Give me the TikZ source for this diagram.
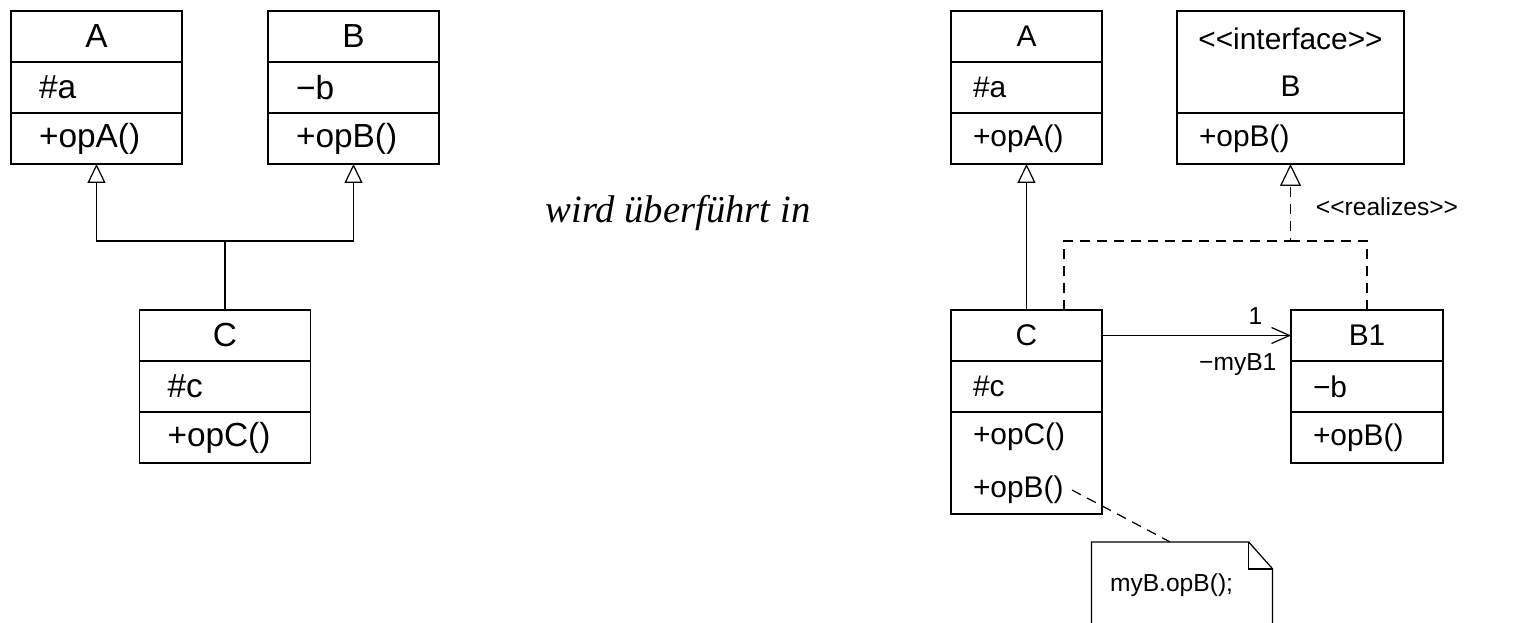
\documentclass[tikz,border=0pt]{standalone}
\usepackage{fontspec}
\newfontfamily\umlfont{Liberation Sans}
\newfontfamily\serifont{Liberation Serif}
\usetikzlibrary{positioning,calc,arrows.meta}

\tikzset{
  cname/.style={draw, minimum width=#1, minimum height=1.02cm, inner sep=0pt, outer sep=0pt, align=center},
  cpart/.style={draw, text width=#1, align=left, inner xsep=0.46cm, inner ysep=0pt, outer sep=0pt, minimum height=1.02cm},
  lbl/.style={font=\umlfont\fontsize{14}{17}\selectfont, inner sep=0pt},
  dashline/.style={dash pattern=on 0.2cm off 0.14cm},
  gen/.style={-{Triangle[open,length=0.38cm,width=0.36cm]}},
  real/.style={dashline, -{Triangle[open,length=0.44cm,width=0.42cm]}},
  assoc/.style={-{Straight Barb[length=0.36cm,width=0.32cm]}}
}

\begin{document}
\begin{tikzpicture}[x=0.02cm, y=-0.02cm, line width=0.7pt,
  font=\umlfont\fontsize{19}{30}\selectfont]

\useasboundingbox (0,0) rectangle (1531,622);

% Left: class C with two superclasses
\node[cname=3.42cm] (A) at (96.5,36.5) {A};
\node[cpart=2.3cm, inner xsep=0.56cm, below=0pt of A] (A-a) {\#a};
\node[cpart=2.3cm, inner xsep=0.56cm, below=0pt of A-a] (A-o) {+opA()};

\node[cname=3.42cm] (B) at (353.5,36.5) {B};
\node[cpart=2.3cm, inner xsep=0.56cm, below=0pt of B] (B-a) {−b};
\node[cpart=2.3cm, inner xsep=0.56cm, below=0pt of B-a] (B-o) {+opB()};

\node[cname=3.42cm] (C) at (225,335.5) {C};
\node[cpart=2.3cm, inner xsep=0.56cm, below=0pt of C] (C-a) {\#c};
\node[cpart=2.3cm, inner xsep=0.56cm, below=0pt of C-a] (C-o) {+opC()};

% Generalization
\coordinate (J) at (225,241);
\draw (C.north) -- (J);
\draw[gen] (J) -| (A-o.south);
\draw[gen] (J) -| (B-o.south);

% Middle text
\node[font=\serifont\itshape\fontsize{22}{26}\selectfont] (txt) at (678,213) {wird überführt in};

% Right: interface and delegation
\begin{scope}[font=\umlfont\fontsize{17}{30}\selectfont]
\node[cname=3.02cm] (A2) at (1026.5,36.5) {A};
\node[cpart=2.14cm, inner xsep=0.44cm, below=0pt of A2] (A2-a) {\#a};
\node[cpart=2.14cm, inner xsep=0.44cm, below=0pt of A2-a] (A2-o) {+opA()};

\node[cname=4.54cm, minimum height=2.04cm] (IB) at (1290.5,62) {<<interface>>\\[-3pt]B};
\node[cpart=3.66cm, inner xsep=0.44cm, below=0pt of IB] (IB-o) {+opB()};

\node[cname=3.02cm] (C2) at (1026.5,335.5) {C};
\node[cpart=2.14cm, inner xsep=0.44cm, below=0pt of C2] (C2-a) {\#c};
\node[cpart=2.14cm, inner xsep=0.44cm, minimum height=2.04cm, below=0pt of C2-a] (C2-o) {+opC()\\+opB()};

\node[cname=3.04cm] (B1) at (1367,335.5) {B1};
\node[cpart=2.16cm, inner xsep=0.44cm, below=0pt of B1] (B1-a) {−b};
\node[cpart=2.16cm, inner xsep=0.44cm, below=0pt of B1-a] (B1-o) {+opB()};
\end{scope}

% Generalization and realization
\draw[gen] (C2.north) -- (A2-o.south);
\coordinate (R) at (1290.5,241);
\draw[real] ($(C2.north)+(37.5,0)$) |- (R) -- (IB-o.south);
\draw[dashline] (B1.north) |- (R);
\node[lbl] (realz) at (1387,207) {<<realizes>>};

% Association
\draw[assoc] (C2.east) -- (B1.west);
\node[lbl, anchor=south east] (mult) at ($(B1.west)+(-28,-10.5)$) {1};
\node[lbl, anchor=north east] (role) at ($(B1.west)+(-14,17.5)$) {−myB1};

% Note
\node[lbl, text width=2.88cm, align=left, inner xsep=0.36cm, minimum width=3.6cm, minimum height=1.7cm] (note) at (1182,585) {myB.opB();};
\draw (note.south west) -- (note.north west) -- ([xshift=-0.48cm]note.north east)
  -- ([yshift=-0.54cm]note.north east) -- (note.south east);
\draw ([xshift=-0.48cm]note.north east) |- ([yshift=-0.54cm]note.north east);
\coordinate (nb) at (1072,490);
\draw[dashline] (nb) -- ([xshift=-0.24cm]note.north);

\end{tikzpicture}
\end{document}
